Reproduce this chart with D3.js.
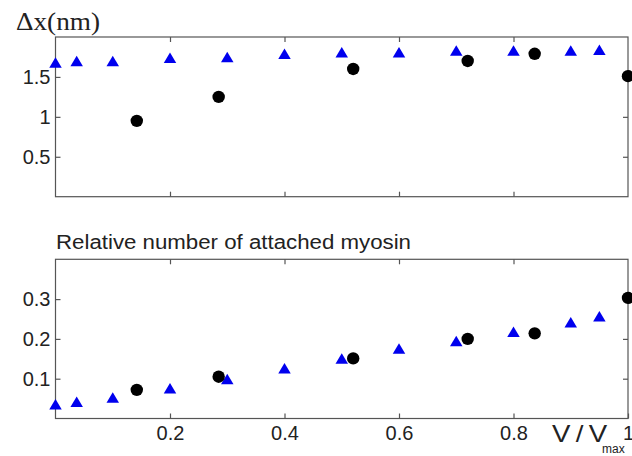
<!DOCTYPE html>
<html>
<head>
<meta charset="utf-8">
<script src="https://cdn.jsdelivr.net/npm/d3@7"></script>
<style>
  html, body { margin: 0; padding: 0; background: #fff; }
  svg { display: block; }
  .tick text { font-family: "Liberation Sans", Arial, sans-serif; fill: #222; }
</style>
</head>
<body>
<svg id="chart" width="632" height="456"></svg>
<script>
// Relative velocity V/Vmax for each series
const modelX = [0, 0.037, 0.1, 0.2, 0.3, 0.4, 0.5, 0.6, 0.7, 0.8, 0.9, 0.95];
const exptX  = [0.142, 0.285, 0.52, 0.72, 0.837, 1.0];

// Step size Δx (nm)
const modelStep = [1.68, 1.70, 1.70, 1.74, 1.75, 1.79, 1.81, 1.81, 1.83, 1.83, 1.83, 1.84];
const exptStep  = [0.95, 1.25, 1.60, 1.70, 1.79, 1.51];

// Relative number of attached myosin
const modelAttached = [0.036, 0.042, 0.053, 0.076, 0.099, 0.126, 0.151, 0.176, 0.195, 0.218, 0.242, 0.257];
const exptAttached  = [0.072, 0.105, 0.151, 0.200, 0.214, 0.303];

// Tick values
const xTicks = [0.2, 0.4, 0.6, 0.8, 1];
const stepTicks = [0.5, 1, 1.5];
const attachedTicks = [0.1, 0.2, 0.3];

const svg = d3.select("#chart");
const left = 55.5, right = 628;

const x = d3.scaleLinear().domain([0, 1]).range([left, right]);
const yTop = d3.scaleLinear().domain([0, 2]).range([196.7, 37]);
const yBot = d3.scaleLinear().domain([0, 0.4]).range([418.5, 259.3]);

const axisColor = "#555";
const tickFont = "20px";

// Upward triangle marker centred on its bounding box
const triPath = (w, h) => `M0,${-h/2}L${w/2},${h/2}L${-w/2},${h/2}Z`;

function panel(yScale, yTicks, showXLabels, xs1, ys1, xs2, ys2) {
  const [y0, y1] = yScale.range();
  const g = svg.append("g");

  // frame
  g.append("rect")
    .attr("x", left).attr("y", y1)
    .attr("width", right - left).attr("height", y0 - y1)
    .attr("fill", "none").attr("stroke", axisColor).attr("stroke-width", 1.2);

  // bottom axis
  const xb = g.append("g").attr("transform", `translate(0,${y0})`)
    .call(d3.axisBottom(x).tickValues(showXLabels ? xTicks : xTicks.slice(0, 4))
      .tickSizeInner(-5).tickSizeOuter(0).tickPadding(7)
      .tickFormat(showXLabels ? d3.format("") : () => ""));
  // top axis (ticks only)
  const xt = g.append("g").attr("transform", `translate(0,${y1})`)
    .call(d3.axisTop(x).tickValues(xTicks.slice(0, 4))
      .tickSizeInner(-5).tickSizeOuter(0).tickFormat(() => ""));
  // left axis
  const yl = g.append("g").attr("transform", `translate(${left},0)`)
    .call(d3.axisLeft(yScale).tickValues(yTicks)
      .tickSizeInner(-5).tickSizeOuter(0).tickPadding(5)
      .tickFormat(d3.format("")));
  // right axis (ticks only)
  const yr = g.append("g").attr("transform", `translate(${right},0)`)
    .call(d3.axisRight(yScale).tickValues(yTicks)
      .tickSizeInner(-5).tickSizeOuter(0).tickFormat(() => ""));

  [xb, xt, yl, yr].forEach(a => {
    a.select(".domain").remove();
    a.selectAll(".tick line").attr("stroke", axisColor).attr("stroke-width", 1.2);
    a.selectAll(".tick text").attr("font-size", tickFont).attr("fill", "#222");
  });

  // model series: blue triangles
  g.append("g").selectAll("path")
    .data(xs1.map((d, i) => [d, ys1[i]]))
    .join("path")
    .attr("d", triPath(12.5, 10.5))
    .attr("transform", d => `translate(${x(d[0])},${yScale(d[1])})`)
    .attr("fill", "#0000ee");

  // experimental series: black circles
  g.append("g").selectAll("circle")
    .data(xs2.map((d, i) => [d, ys2[i]]))
    .join("circle")
    .attr("cx", d => x(d[0])).attr("cy", d => yScale(d[1]))
    .attr("r", 6.2).attr("fill", "#000");
}

panel(yTop, stepTicks, false, modelX, modelStep, exptX, exptStep);
panel(yBot, attachedTicks, true, modelX, modelAttached, exptX, exptAttached);

// Titles and axis label
svg.append("text")
  .attr("x", 16).attr("y", 30)
  .attr("font-family", "'Liberation Serif', 'Times New Roman', serif")
  .attr("font-size", "26px").attr("fill", "#222")
  .attr("textLength", 84).attr("lengthAdjust", "spacingAndGlyphs")
  .text("Δx(nm)");

svg.append("text")
  .attr("x", 56).attr("y", 249)
  .attr("font-family", "'Liberation Sans', Arial, sans-serif")
  .attr("font-size", "19.5px").attr("fill", "#222")
  .attr("textLength", 355).attr("lengthAdjust", "spacingAndGlyphs")
  .text("Relative number of attached myosin");

// V/Vmax axis label with subscript
svg.append("text")
  .attr("transform", "translate(552,442) scale(1.2,1)")
  .attr("font-family", "'Liberation Sans', Arial, sans-serif")
  .attr("font-size", "23px").attr("fill", "#222")
  .attr("textLength", 46).attr("lengthAdjust", "spacing")
  .text("V/V");
svg.append("text")
  .attr("x", 602).attr("y", 453)
  .attr("font-family", "'Liberation Sans', Arial, sans-serif")
  .attr("font-size", "12px").attr("fill", "#222")
  .text("max");
</script>
</body>
</html>
